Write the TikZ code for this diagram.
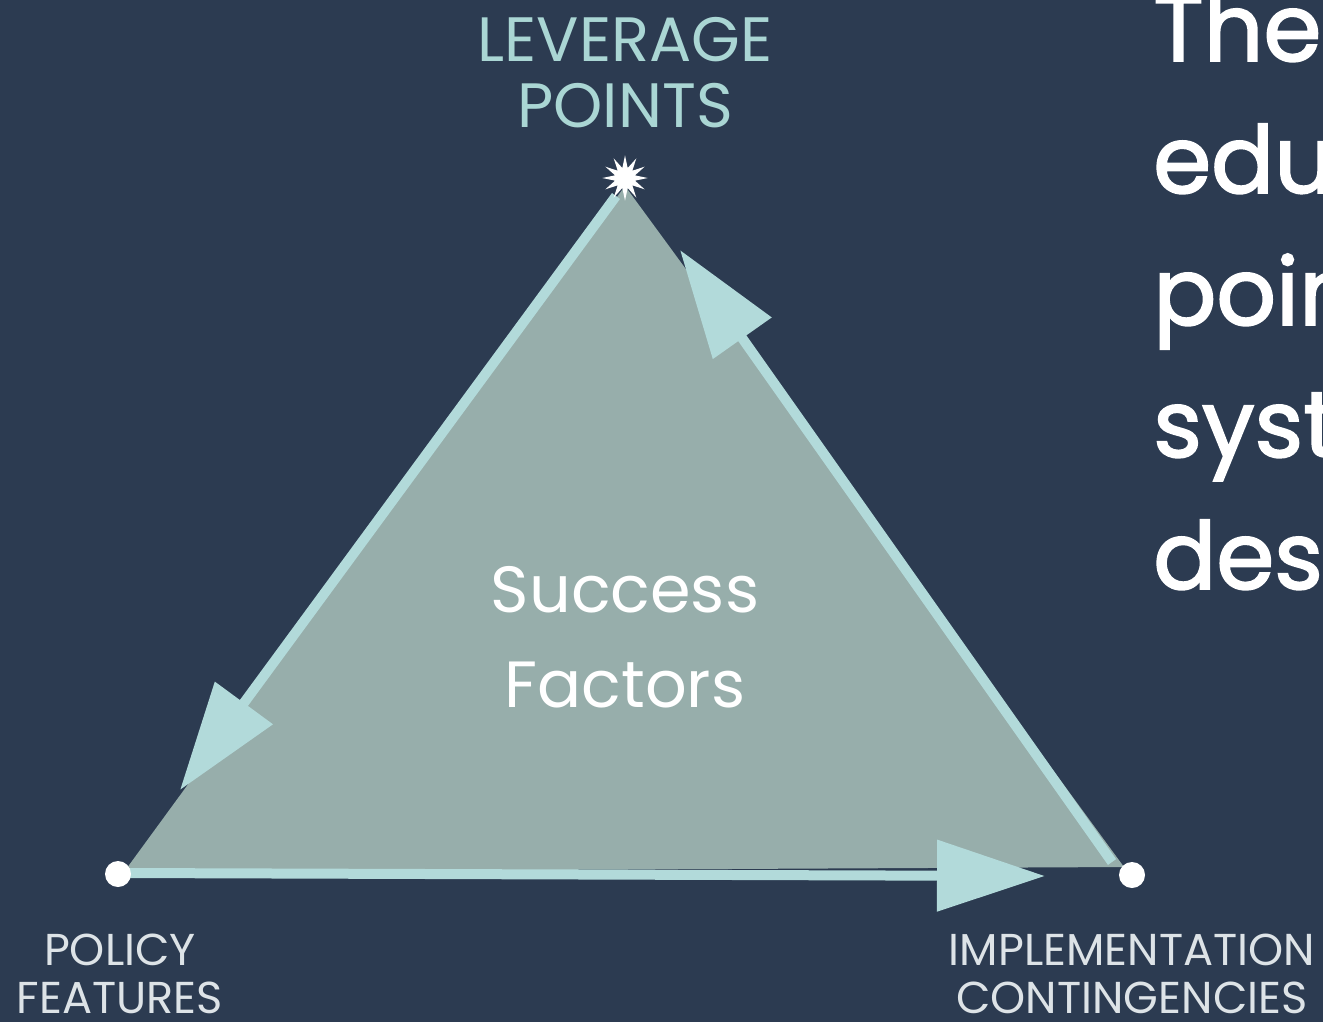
\documentclass[tikz,border=0pt]{standalone}
\usepackage{fontspec}
\setmainfont{Poppins}
\newfontfamily\sidefont[FakeBold=2]{Poppins}
\usetikzlibrary{arrows.meta,shapes.geometric}
\definecolor{navy}{HTML}{2C3B51}
\definecolor{tricol}{HTML}{97AEAB}
\definecolor{flowcol}{HTML}{B2DADA}
\definecolor{levcol}{HTML}{AAD6D4}
\definecolor{cornercol}{HTML}{DDE3E7}
\begin{document}
\begin{tikzpicture}[x=0.75pt,y=-0.75pt]
	\tikzset{flow/.style={draw=flowcol,line width=7.5pt,-{Triangle[length=81pt,width=52pt]}},
		dot/.style={circle,fill=white,minimum size=19.5pt,inner sep=0pt},
		spark/.style={star,star points=12,star point ratio=2.2,fill=white,minimum size=34pt,inner sep=0pt},
		corner/.style={align=center,inner sep=0pt,font=\fontsize{33.5}{36}\selectfont}}
	\fill[navy] (0,0) rectangle (1323,1022);
	\useasboundingbox (0,0) rectangle (1323,1022);
	% triangle
	\coordinate (apex) at (625,186);
	\coordinate (left) at (124,872);
	\coordinate (right) at (1124,867);
	\fill[tricol] (apex) -- (left) -- (right) -- cycle;
	% arrows round the triangle
	\coordinate (down) at (180,790);
	\coordinate (up) at (680,250);
	\coordinate (across) at (1045,876);
	\coordinate (s1) at (616,196);
	\coordinate (s2) at (1112,862);
	\coordinate (s3) at (124,873);
	\draw[flow] (s1) -- (down);
	\draw[flow] (s2) -- (up);
	\draw[flow] (s3) -- (across);
	% corners
	\node[spark] (lev) at (625,178) {};
	\node[dot] (pol) at (118,874) {};
	\node[dot] (imp) at (1132,875) {};
	\node[corner,text=levcol,font=\fontsize{47}{49.5}\selectfont] (levtxt) at (625,73) {LEVERAGE\\POINTS};
	\node[corner,text=cornercol] (poltxt) at (120,974) {POLICY\\FEATURES};
	\node[corner,text=cornercol] (imptxt) at (1132,974) {IMPLEMENTATION\\CONTINGENCIES};
	\node[align=center,inner sep=0pt,text=white,font=\fontsize{49}{71}\selectfont] (success) at (625,637) {Success\\Factors};
	\node[align=left,inner sep=0pt,anchor=south west,text=white,font=\sidefont\fontsize{70}{99}\selectfont] (side) at (1153,590) {The\\edu\\poin\\syst\\desi};
\end{tikzpicture}
\end{document}
